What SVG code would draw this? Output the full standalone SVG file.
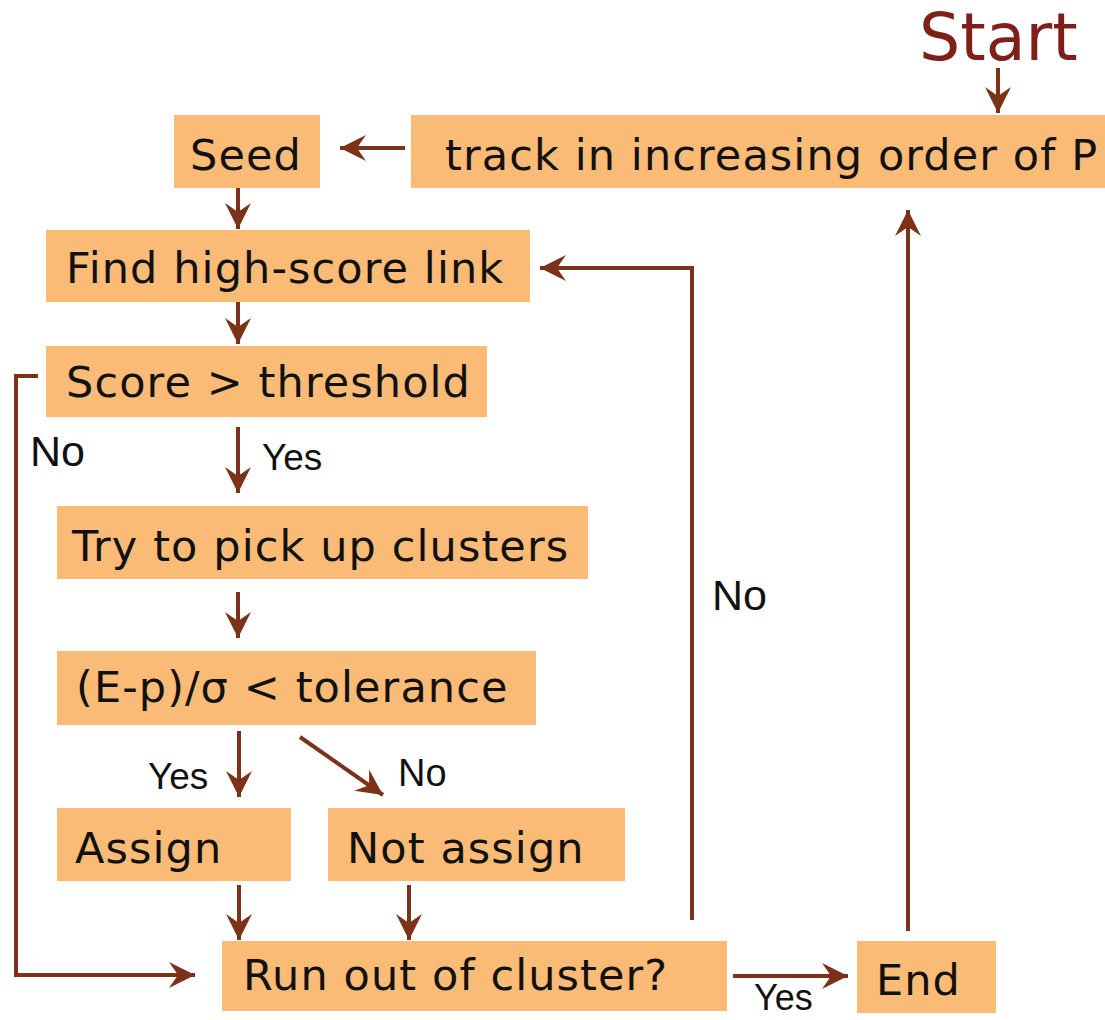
<svg xmlns="http://www.w3.org/2000/svg" width="1105" height="1020" viewBox="0 0 1105 1020">
  <style>
    .box { fill: #FABB76; }
    .txt { font-family: "DejaVu Sans", Verdana, sans-serif; font-size: 43px; fill: #111; letter-spacing: 1.1px; }
    .lbl { font-family: "Liberation Sans", Arial, sans-serif; fill: #111; }
    .conn { fill: none; stroke: #7B3219; stroke-width: 4; }
  </style>
  <defs>
    <marker id="arrow" viewBox="-27 -14 28 28" refX="0" refY="0" markerWidth="28" markerHeight="28" markerUnits="userSpaceOnUse" orient="auto">
      <path d="M0,0 L-26,-13 L-17,0 L-26,13 Z" fill="#7B3219"/>
    </marker>
  </defs>
  <rect width="1105" height="1020" fill="#fff"/>

  <!-- Start label -->
  <text x="919" y="60" font-family="DejaVu Sans, Verdana, sans-serif" font-size="65" fill="#7F1F1A">Start</text>

  <g id="node-track">
    <rect class="box" x="411" y="115" width="694" height="73"/>
    <text class="txt" x="445" y="170" letter-spacing="0.9">track in increasing order of P</text>
  </g>
  <g id="node-seed">
    <rect class="box" x="174" y="115" width="146" height="73"/>
    <text class="txt" x="190" y="170">Seed</text>
  </g>
  <g id="node-find">
    <rect class="box" x="46" y="230" width="484" height="72"/>
    <text class="txt" x="66" y="283">Find high-score link</text>
  </g>
  <g id="node-score">
    <rect class="box" x="46" y="346" width="441" height="71"/>
    <text class="txt" x="66" y="397">Score &gt; threshold</text>
  </g>
  <g id="node-try">
    <rect class="box" x="57" y="506" width="531" height="73"/>
    <text class="txt" x="72" y="561">Try to pick up clusters</text>
  </g>
  <g id="node-tolerance">
    <rect class="box" x="57" y="651" width="479" height="74"/>
    <text class="txt" x="76" y="702">(E-p)/σ &lt; tolerance</text>
  </g>
  <g id="node-assign">
    <rect class="box" x="57" y="808" width="234" height="73"/>
    <text class="txt" x="75" y="863">Assign</text>
  </g>
  <g id="node-notassign">
    <rect class="box" x="328" y="808" width="297" height="73"/>
    <text class="txt" x="347" y="863">Not assign</text>
  </g>
  <g id="node-runout">
    <rect class="box" x="222" y="941" width="505" height="70"/>
    <text class="txt" x="243" y="990">Run out of cluster?</text>
  </g>
  <g id="node-end">
    <rect class="box" x="857" y="941" width="139" height="72"/>
    <text class="txt" x="876" y="995">End</text>
  </g>

  <g id="connectors">
    <line class="conn" x1="998" y1="68" x2="998" y2="113" marker-end="url(#arrow)"/>
    <line class="conn" x1="405" y1="148" x2="340" y2="148" marker-end="url(#arrow)"/>
    <line class="conn" x1="238" y1="188" x2="238" y2="229" marker-end="url(#arrow)"/>
    <line class="conn" x1="238" y1="302" x2="238" y2="344" marker-end="url(#arrow)"/>
    <polyline class="conn" points="38,376 16,376 16,975 195,975" marker-end="url(#arrow)"/>
    <line class="conn" x1="238" y1="427" x2="238" y2="493" marker-end="url(#arrow)"/>
    <line class="conn" x1="238" y1="592" x2="238" y2="638" marker-end="url(#arrow)"/>
    <line class="conn" x1="239" y1="731" x2="239" y2="797" marker-end="url(#arrow)"/>
    <line class="conn" x1="300" y1="737" x2="383" y2="795" marker-end="url(#arrow)"/>
    <line class="conn" x1="239" y1="885" x2="239" y2="940" marker-end="url(#arrow)"/>
    <line class="conn" x1="409" y1="885" x2="409" y2="940" marker-end="url(#arrow)"/>
    <line class="conn" x1="733" y1="976" x2="848" y2="976" marker-end="url(#arrow)"/>
    <polyline class="conn" points="692,920 692,268 540,268" marker-end="url(#arrow)"/>
    <line class="conn" x1="908" y1="931" x2="908" y2="210" marker-end="url(#arrow)"/>
  </g>

  <g id="labels">
    <text class="lbl" x="30" y="466" font-size="43">No</text>
    <text class="lbl" x="262" y="470" font-size="37">Yes</text>
    <text class="lbl" x="712" y="610" font-size="43">No</text>
    <text class="lbl" x="148" y="789" font-size="37">Yes</text>
    <text class="lbl" x="398" y="786" font-size="38">No</text>
    <text class="lbl" x="754" y="1010" font-size="36">Yes</text>
  </g>
</svg>
